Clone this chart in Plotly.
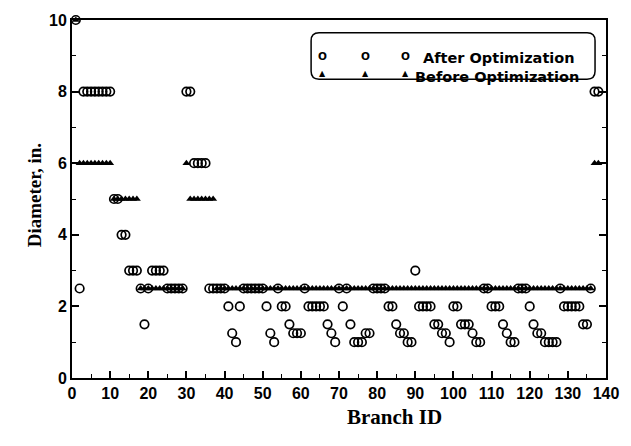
import plotly.graph_objects as go

# ---------------- data ----------------
branch_id = list(range(1, 139))

after_opt = (
    [10, 2.5] + [8] * 8 + [5, 5, 4, 4, 3, 3, 3, 2.5, 1.5, 2.5] + [3] * 4 + [2.5] * 5
    + [8, 8] + [6] * 4 + [2.5] * 5
    + [2, 1.25, 1, 2] + [2.5] * 6 + [2, 1.25, 1, 2.5, 2, 2, 1.5, 1.25, 1.25, 1.25, 2.5]
    + [2] * 5 + [1.5, 1.25, 1, 2.5, 2, 2.5, 1.5, 1, 1, 1, 1.25, 1.25]
    + [2.5] * 4 + [2, 2, 1.5, 1.25, 1.25, 1, 1, 3] + [2] * 4
    + [1.5, 1.5, 1.25, 1.25, 1, 2, 2, 1.5, 1.5, 1.5, 1.25, 1, 1, 2.5, 2.5]
    + [2, 2, 2, 1.5, 1.25, 1, 1, 2.5, 2.5, 2.5, 2, 1.5, 1.25, 1.25] + [1] * 4
    + [2.5] + [2] * 5 + [1.5, 1.5, 2.5, 8, 8]
)

before_opt = (
    [10] + [6] * 9 + [5] * 7 + [2.5] * 12 + [6] + [5] * 7 + [2.5] * 99 + [6, 6]
)

x_ticks = list(range(0, 141, 10))
y_ticks = list(range(0, 11, 2))

# ---------------- layout geometry ----------------
W, H = 631, 446
L, R, T, B = 72, 608, 15, 378


def px(x):
    return (x - L) / (R - L)


def py(y):
    return (B - y) / (B - T)


fig = go.Figure()

fig.add_trace(go.Scatter(
    x=branch_id, y=before_opt, mode="markers", name="Before Optimization",
    marker=dict(symbol="triangle-up", size=7, color="black"),
    showlegend=False, cliponaxis=False,
))
fig.add_trace(go.Scatter(
    x=branch_id, y=after_opt, mode="markers", name="After Optimization",
    marker=dict(symbol="circle-open", size=8.5, color="black", line=dict(width=1.7)),
    showlegend=False, cliponaxis=False,
))

tickfont = dict(family="Liberation Sans", size=16, color="black", weight="bold")

fig.update_xaxes(
    range=[0, 140], tickmode="array", tickvals=x_ticks, ticktext=[str(v) for v in x_ticks],
    ticks="inside", ticklen=7, tickwidth=1.5, tickcolor="black",
    minor=dict(dtick=5, ticks="inside", ticklen=4, tickwidth=1.2, tickcolor="black"),
    showline=True, linecolor="black", linewidth=2, mirror=True,
    showgrid=False, zeroline=False, tickfont=tickfont,
)
fig.update_yaxes(
    range=[0, 10], tickmode="array", tickvals=y_ticks, ticktext=[str(v) for v in y_ticks],
    ticks="inside", ticklen=7, tickwidth=1.5, tickcolor="black",
    minor=dict(dtick=1, ticks="inside", ticklen=4, tickwidth=1.2, tickcolor="black"),
    showline=True, linecolor="black", linewidth=2, mirror="ticks",
    showgrid=False, zeroline=False, tickfont=tickfont,
)

# axis titles
fig.add_annotation(text="Branch ID", xref="paper", yref="paper", x=px(445), y=py(432),
                   showarrow=False, font=dict(family="Liberation Serif", size=21,
                                              color="black", weight="bold"))
fig.add_annotation(text="Diameter, in.", xref="paper", yref="paper", x=px(22), y=py(193),
                   textangle=-90, showarrow=False,
                   font=dict(family="Liberation Serif", size=19, color="black", weight="bold"))

# legend box (rounded)
x0, x1, y0, y1 = px(312), px(597), py(28), py(75)
rx = 8 / (R - L)
ry = 8 / (B - T)
path = (f"M {x0+rx},{y0} L {x1-rx},{y0} Q {x1},{y0} {x1},{y0-ry} "
        f"L {x1},{y1+ry} Q {x1},{y1} {x1-rx},{y1} L {x0+rx},{y1} "
        f"Q {x0},{y1} {x0},{y1+ry} L {x0},{y0-ry} Q {x0},{y0} {x0+rx},{y0} Z")
fig.add_shape(type="path", path=path, xref="paper", yref="paper",
              line=dict(color="black", width=1.5), fillcolor="white")

legend_rows = [("After Optimization", "O", 43, 10.5, 422),
               ("Before Optimization", "▲", 63, 8, 414)]
for label, sym, yy, fs, tx in legend_rows:
    for sx in (323, 367, 407):
        fig.add_annotation(text=sym, xref="paper", yref="paper", x=px(sx), y=py(yy),
                           showarrow=False, font=dict(family="DejaVu Sans", size=fs,
                                                      color="black", weight="bold"))
    fig.add_annotation(text=label, xref="paper", yref="paper", x=px(tx), y=py(yy),
                       xanchor="left", showarrow=False,
                       font=dict(family="DejaVu Sans", size=14.5, color="black",
                                 weight="bold"))

fig.update_layout(
    width=W, height=H, margin=dict(l=L, r=W - R, t=T, b=H - B),
    plot_bgcolor="white", paper_bgcolor="white",
)

fig.write_html("out.html")
